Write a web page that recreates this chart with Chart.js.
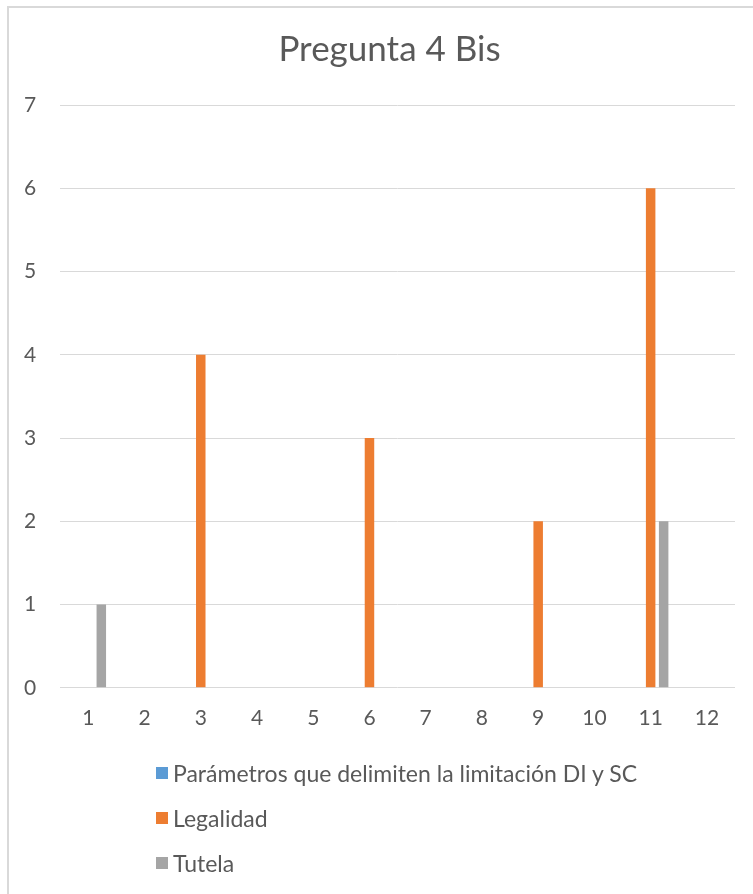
<!DOCTYPE html>
<html>
<head>
<meta charset="utf-8">
<script src="https://cdn.jsdelivr.net/npm/chart.js@4.4.1/dist/chart.umd.min.js"></script>
<style>
    body { margin: 0; background: #fff; font-family: Lato, sans-serif; overflow: hidden; }
    #frame {
        position: absolute; left: 7px; top: 6px; width: 800px; height: 950px;
        border-left: 2px solid #d9d9d9; border-top: 2px solid #d9d9d9;
    }
    #wrap { position: absolute; left: 0; top: 0; width: 753px; height: 894px; }
    #legend { position: absolute; left: 156px; top: 0; }
    .item { position: absolute; left: 0; white-space: nowrap; font-size: 23px; color: #595959; line-height: 26px; }
    .item span.box { position: absolute; left: 0; top: 7px; width: 12px; height: 12px; }
    .item span.txt { position: absolute; left: 17px; top: 0; }
</style>
</head>
<body>
<div id="frame"></div>
<div id="wrap">
    <canvas id="myChart" width="753" height="894"></canvas>
    <div id="legend"></div>
</div>
<script>
const categories = ["1", "2", "3", "4", "5", "6", "7", "8", "9", "10", "11", "12"];
const parametros = [0, 0, 0, 0, 0, 0, 0, 0, 0, 0, 0, 0];
const legalidad = [0, 0, 4, 0, 0, 3, 0, 0, 2, 0, 6, 0];
const tutela = [1, 0, 0, 0, 0, 0, 0, 0, 0, 0, 2, 0];
const seriesNames = ["Parámetros que delimiten la limitación DI y SC", "Legalidad", "Tutela"];
const seriesColors = ["#5b9bd5", "#ed7d31", "#a5a5a5"];
const legendTops = [760, 805, 850];

// the original frame is wider than the picture, so its title sits a bit right of centre
const titleShift = {
    id: "titleShift",
    afterLayout(chart) {
        chart.titleBlock.left += 22;
        chart.titleBlock.right += 22;
    }
};

const ctx = document.getElementById("myChart");

const myChart = new Chart(ctx, {
    type: "bar",
    data: {
        labels: categories,
        datasets: [
            { label: seriesNames[0], data: parametros, backgroundColor: seriesColors[0] },
            { label: seriesNames[1], data: legalidad, backgroundColor: seriesColors[1] },
            { label: seriesNames[2], data: tutela, backgroundColor: seriesColors[2] }
        ]
    },
    plugins: [titleShift],
    options: {
        responsive: false,
        animation: false,
        categoryPercentage: 0.694,
        barPercentage: 0.73,
        layout: {
            padding: { left: 0, right: 18, top: 0, bottom: 153 }
        },
        plugins: {
            legend: { display: false },
            tooltip: { enabled: false },
            title: {
                display: true,
                text: "Pregunta 4 Bis",
                color: "#595959",
                font: { family: "Lato", size: 35, weight: "normal" },
                padding: { top: 29, bottom: 34 }
            }
        },
        scales: {
            x: {
                grid: { display: false },
                border: { display: false },
                ticks: {
                    color: "#595959",
                    padding: 10,
                    font: { family: "Lato", size: 21 }
                }
            },
            y: {
                min: 0,
                max: 7,
                grid: { color: "#d9d9d9", lineWidth: 1, drawTicks: false },
                border: { display: false },
                ticks: {
                    stepSize: 1,
                    color: "#595959",
                    padding: 24,
                    font: { family: "Lato", size: 21 }
                }
            }
        }
    }
});

// legend in a vertical list, like the original
const legend = document.getElementById("legend");
myChart.data.datasets.forEach(function (ds, i) {
    const item = document.createElement("div");
    item.className = "item";
    item.style.top = legendTops[i] + "px";
    item.innerHTML = '<span class="box" style="background:' + ds.backgroundColor + '"></span><span class="txt"></span>';
    item.querySelector(".txt").textContent = ds.label;
    legend.appendChild(item);
});
</script>
</body>
</html>
